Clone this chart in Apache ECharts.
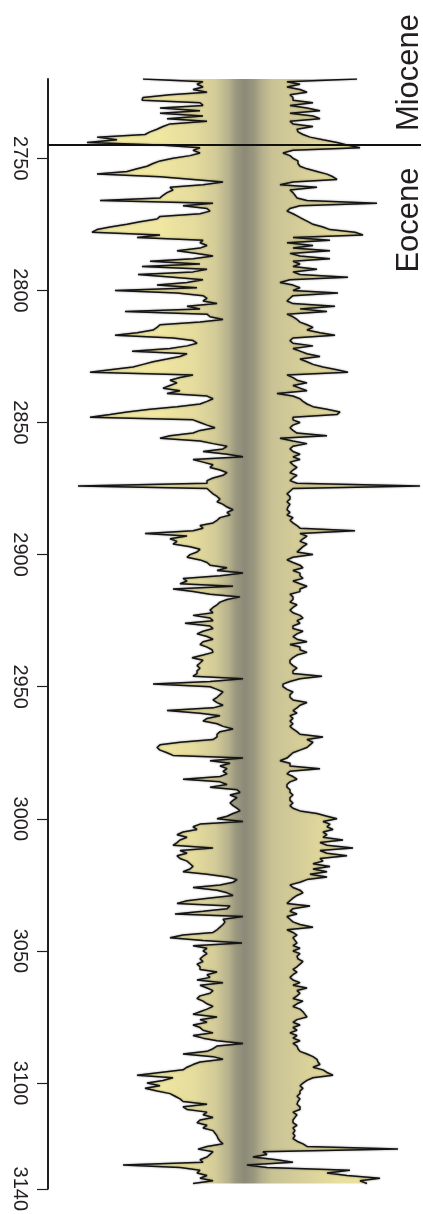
<!DOCTYPE html>
<html><head><meta charset="utf-8">
<script src="https://cdn.jsdelivr.net/npm/echarts@6/dist/echarts.min.js"></script>
<style>html,body{margin:0;padding:0;background:#fff}#c{width:423px;height:1214px}</style>
</head><body><div id="c"></div>
<script>
// depth sampling (m)
const depthStart = 2720;
const depthStep = 1;
// left log amplitude (plotted leftwards from the centre)
const leftLog = [
102,42,48,42,52,38,75,102,103,45,
42,85,45,85,42,78,38,75,82,88,
95,100,148,128,158,85,45,52,45,55,
72,85,92,98,108,118,148,85,52,22,
42,75,72,78,82,85,145,32,62,38,
35,45,85,88,105,118,135,148,153,85,
108,42,45,38,45,68,48,32,52,95,
45,103,38,52,107,72,42,58,88,48,
130,68,42,38,42,28,58,45,120,38,
35,22,45,85,88,92,108,130,72,52,
48,58,75,113,58,65,78,92,102,112,
135,155,52,65,75,68,75,82,65,78,
38,32,38,45,68,95,118,135,155,52,
45,38,30,45,52,75,85,45,32,18,
22,42,18,2,52,42,32,35,25,18,
22,32,38,38,167,38,35,32,28,25,
28,22,18,12,18,15,25,28,32,45,
42,52,100,58,75,68,72,55,45,48,
55,58,45,38,35,18,28,2,25,62,
58,65,12,72,52,35,5,18,25,28,
32,35,32,52,35,32,60,35,32,42,
48,38,32,42,45,38,33,32,42,53,
42,45,48,45,48,48,52,2,35,92,
35,28,22,25,28,32,28,22,32,78,
45,25,38,42,28,22,12,25,28,28,
32,65,85,88,85,78,72,2,35,15,
25,18,22,18,25,62,25,18,35,8,
5,15,8,12,15,12,8,5,12,18,
28,2,45,52,48,62,68,58,65,68,
72,32,65,58,68,65,58,55,52,55,
62,38,18,8,12,25,52,28,18,12,
35,58,68,15,18,42,70,2,22,20,
22,25,28,32,62,75,42,3,52,38,
42,38,42,45,42,48,45,45,28,38,
35,48,22,45,38,32,35,45,48,42,
38,32,38,45,52,28,45,38,52,45,
42,32,52,42,28,2,28,32,38,62,
32,22,45,52,58,62,85,108,72,82,
98,85,100,88,75,70,65,62,38,62,
58,38,42,32,45,48,38,42,32,30,
28,27,25,22,38,47,32,35,38,45,
42,122,65,45,48,38,45,32,52
];
// right log amplitude (plotted rightwards from the centre)
const rightLog = [
112,42,55,42,55,62,45,48,48,68,
45,62,75,45,68,75,45,48,68,52,
53,58,65,78,92,102,115,48,38,45,
48,53,53,55,62,72,82,88,92,48,
35,72,45,48,50,52,62,132,55,45,
42,48,53,58,63,68,78,85,110,118,
48,85,42,68,48,85,45,55,85,48,
55,48,72,48,55,103,45,35,48,55,
48,93,48,45,42,48,90,55,82,42,
48,52,55,62,68,62,75,90,48,45,
48,68,48,55,62,75,55,62,68,78,
92,103,42,48,52,62,48,55,62,32,
48,55,58,62,68,82,95,92,48,48,
55,48,45,48,52,82,35,48,62,48,
45,48,55,48,55,45,48,52,48,45,
52,48,45,52,175,48,45,42,45,45,
42,45,43,42,45,42,48,45,48,52,
55,110,55,62,58,55,62,58,55,52,
68,48,42,48,55,58,48,55,55,58,
48,55,62,55,55,45,48,48,45,52,
48,45,48,55,58,52,55,48,48,58,
52,48,52,62,45,55,55,62,52,48,
45,45,48,52,48,48,77,55,45,38,
38,42,48,45,45,48,62,55,52,48,
52,45,48,45,48,45,48,52,55,78,
62,68,65,62,55,48,45,42,35,45,
45,75,45,42,48,52,45,42,42,45,
45,48,45,45,48,45,48,55,72,82,
92,78,85,82,88,78,82,78,98,75,
82,108,75,82,102,75,78,68,85,68,
82,65,82,62,55,45,48,55,58,52,
48,45,42,65,48,45,52,42,45,48,
55,68,42,48,52,48,50,52,48,55,
48,55,52,53,58,55,52,48,52,48,
45,48,55,48,62,52,55,52,48,58,
52,48,55,58,60,62,52,48,55,48,
52,45,52,48,55,48,52,53,55,62,
68,72,73,75,68,78,82,88,68,62,
58,55,58,55,55,52,55,53,52,55,
55,48,52,50,48,48,52,48,50,48,
50,48,52,58,62,153,18,22,8,32,
48,2,22,105,82,102,135,115,122
];
const depthTicks = [2750, 2800, 2850, 2900, 2950, 3000, 3050, 3100, 3140];
const boundaryDepth = 2745;
const epochNames = ['Miocene', 'Eocene'];

const depths = leftLog.map((_, i) => depthStart + i * depthStep);
const X_MIN = -197, X_MAX = 176, Y_MIN = 2720, Y_MAX = 3140;
const FONT = '"Liberation Sans", Arial, Helvetica, sans-serif';

const stops = [
  {offset: 0.00, color: '#f3eba8'},
  {offset: 0.30, color: '#f0e7a2'},
  {offset: 0.394, color: '#e4db9d'},
  {offset: 0.448, color: '#d4cc98'},
  {offset: 0.483, color: '#b8b28d'},
  {offset: 0.504, color: '#9a977f'},
  {offset: 0.528, color: '#8c8a78'},
  {offset: 0.552, color: '#9a977f'},
  {offset: 0.574, color: '#b6b08c'},
  {offset: 0.601, color: '#c8c295'},
  {offset: 0.676, color: '#d6ce99'},
  {offset: 0.783, color: '#e8df9f'},
  {offset: 1.00, color: '#f2e9a5'}
];

const chart = echarts.init(document.getElementById('c'));
const curveStyle = {color: '#141414', width: 1.5, shadowBlur: 2, shadowColor: 'rgba(0,0,0,0.45)'};
const option = {
  animation: false,
  grid: {left: 48, right: 2, top: 79, bottom: 21},
  xAxis: {type: 'value', min: X_MIN, max: X_MAX, show: false},
  yAxis: {
    type: 'value', inverse: true, min: Y_MIN, max: Y_MAX, position: 'left',
    axisLine: {show: true, onZero: false, lineStyle: {color: '#231f20', width: 2}},
    axisTick: {show: true, customValues: depthTicks, length: 11, lineStyle: {color: '#231f20', width: 1.2}},
    axisLabel: {customValues: depthTicks, rotate: -90, margin: 18, fontSize: 20, color: '#231f20', fontFamily: FONT,
                formatter: v => String(v)},
    splitLine: {show: false}
  },
  series: [
    {
      type: 'custom', silent: true, clip: false, z: 1,
      data: [[0, 2900]],
      renderItem: function (params, api) {
        const pts = [];
        for (let i = 0; i < leftLog.length; i++) pts.push(api.coord([-leftLog[i], depths[i]]));
        for (let i = rightLog.length - 1; i >= 0; i--) pts.push(api.coord([rightLog[i], depths[i]]));
        const x0 = api.coord([X_MIN, Y_MIN])[0];
        const x1 = api.coord([X_MAX, Y_MIN])[0];
        return {
          type: 'polygon',
          shape: {points: pts},
          style: {fill: new echarts.graphic.LinearGradient(x0, 0, x1, 0, stops, true)}
        };
      }
    },
    {
      type: 'line', silent: true, z: 3, symbol: 'none',
      data: leftLog.map((v, i) => [-v, depths[i]]),
      lineStyle: curveStyle
    },
    {
      type: 'line', silent: true, z: 3, symbol: 'none',
      data: rightLog.map((v, i) => [v, depths[i]]),
      lineStyle: curveStyle,
      markLine: {
        silent: true, symbol: 'none', label: {show: false},
        lineStyle: {color: '#111', width: 2, type: 'solid'},
        data: [{yAxis: boundaryDepth}]
      }
    }
  ],
  graphic: [
    {type: 'text', x: 409.5, y: 72.5, rotation: Math.PI / 2,
     style: {text: epochNames[0], fontSize: 31, fontFamily: FONT, fill: '#231f20', align: 'center', verticalAlign: 'middle', textAlign: 'center', textVerticalAlign: 'middle'}},
    {type: 'text', x: 409.5, y: 220, rotation: Math.PI / 2,
     style: {text: epochNames[1], fontSize: 31, fontFamily: FONT, fill: '#231f20', align: 'center', verticalAlign: 'middle', textAlign: 'center', textVerticalAlign: 'middle'}}
  ]
};
chart.setOption(option);
</script></body></html>
